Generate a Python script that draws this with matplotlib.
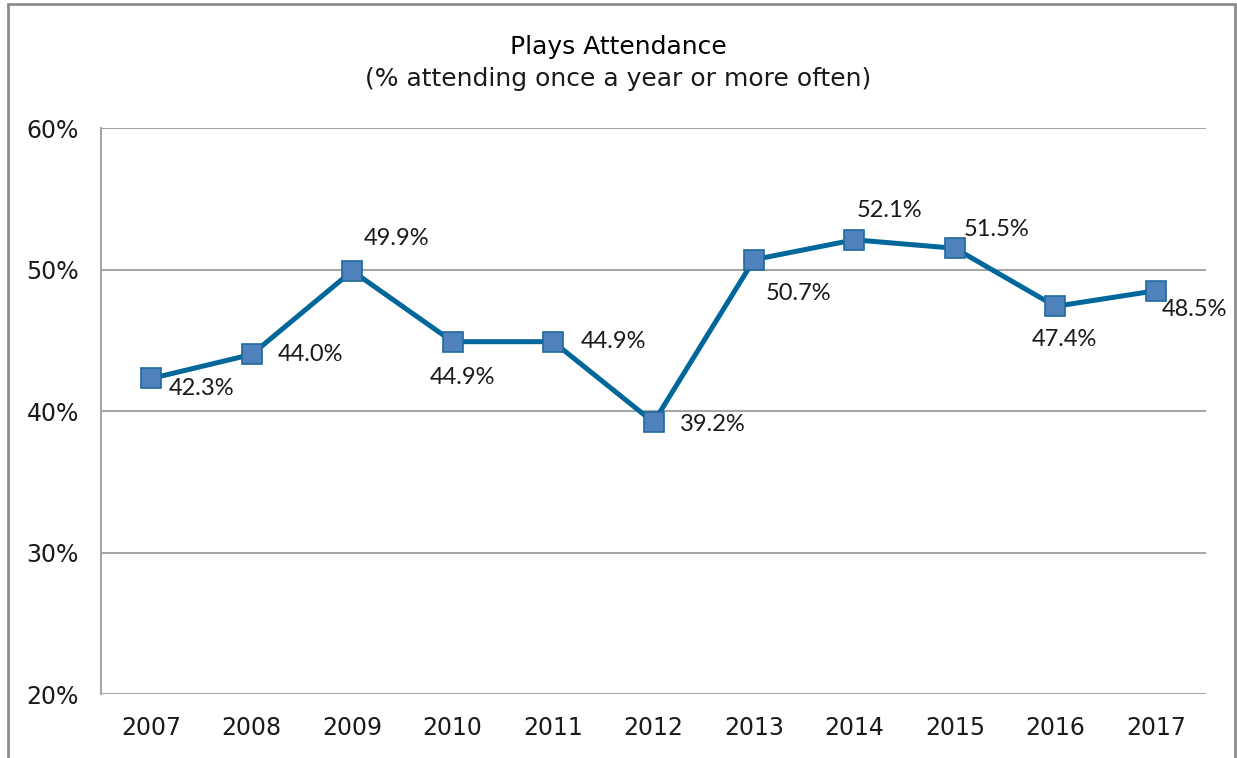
import matplotlib
matplotlib.use("Agg")
import matplotlib.pyplot as plt
from matplotlib.patches import Rectangle

years = ['2007', '2008', '2009', '2010', '2011', '2012', '2013', '2014', '2015', '2016', '2017']
attendance = [42.3, 44.0, 49.9, 44.9, 44.9, 39.2, 50.7, 52.1, 51.5, 47.4, 48.5]
# where each value label sits relative to its marker (pixels, right / up)
label_offsets = [(50, -10), (59, 0), (44, 32), (10, -36), (60, 0), (59, -2),
                 (44, -34), (35, 29), (42, 19), (9, -33), (39, -19)]

fig = plt.figure(figsize=(12.37, 7.58), dpi=100)
ax = fig.add_axes([0.0817, 0.0844, 0.8933, 0.7467])

# outer chart frame (runs off the bottom edge)
fig.patches.append(Rectangle((0.0065, -0.05), 0.9915, 1.045, transform=fig.transFigure,
                             fill=False, edgecolor='#8c8c8c', linewidth=2))

x = range(len(years))
ax.plot(x, attendance, color='#00679a', linewidth=3.6, marker='s', markersize=14,
        markerfacecolor='#4f81bd', markeredgecolor='#1f6a9e', markeredgewidth=1.2, zorder=3)

for i, v in enumerate(attendance):
    dx, dy = label_offsets[i]
    ax.annotate('%.1f%%' % v, (i, v), xytext=(dx, dy), textcoords='offset pixels',
                ha='center', va='center', fontsize=17, family='Lato', color='#1a1a1a')

ax.set_xlim(-0.5, len(years) - 0.5)
ax.set_ylim(20, 60)
ax.set_yticks([20, 30, 40, 50, 60])
ax.set_yticklabels(['20%', '30%', '40%', '50%', '60%'])
ax.set_xticks(list(x))
ax.set_xticklabels(years)
ax.tick_params(length=0, labelsize=17, labelcolor='#1a1a1a')
ax.tick_params(axis='x', pad=16)
ax.tick_params(axis='y', pad=16)
ax.grid(axis='y', color='#a6a6a6', linewidth=1.5)
ax.set_axisbelow(True)
for s in ['top', 'right', 'bottom']:
    ax.spines[s].set_visible(False)
ax.spines['left'].set_color('#a6a6a6')
ax.spines['left'].set_linewidth(1.5)

fig.text(0.5, 0.938, 'Plays Attendance', ha='center', va='center', fontsize=18, color='black')
fig.text(0.5, 0.896, '(% attending once a year or more often)', ha='center', va='center',
         fontsize=18, color='#1a1a1a')

fig.savefig('out.png', dpi=100)
